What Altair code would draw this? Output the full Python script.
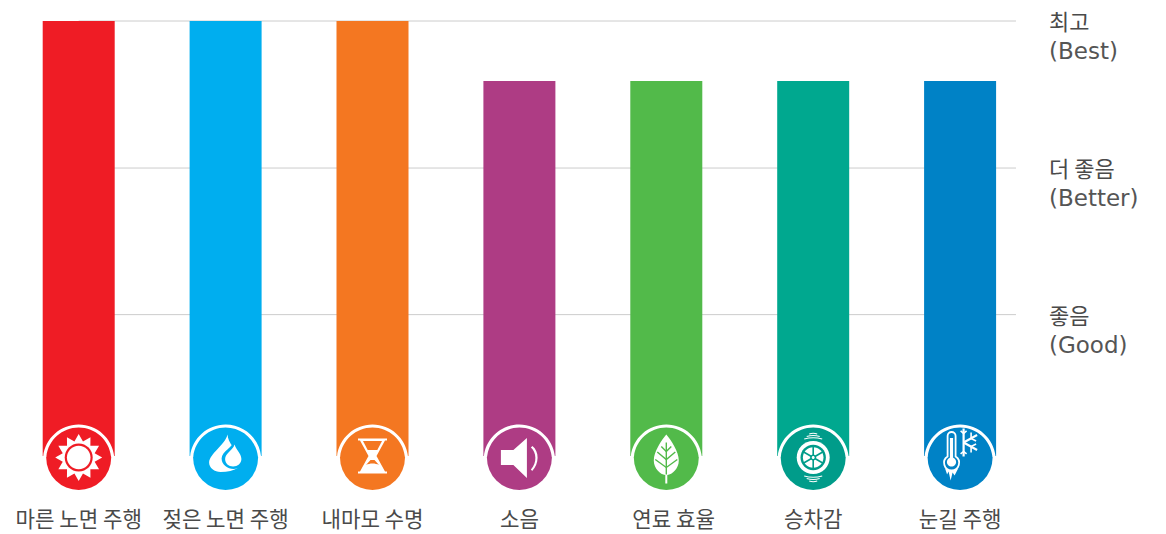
import math
import altair as alt
import pandas as pd

# ---- chart values -------------------------------------------------------
categories = ["마른 노면 주행", "젖은 노면 주행", "내마모 수명", "소음", "연료 효율", "승차감", "눈길 주행"]
label_slots = [0, 1, 2, 3, 4.05, 5, 6]
scores = [100, 100, 100, 86.2, 86.2, 86.2, 86.2]
bar_colors = ["#EF1C25", "#00AEEF", "#F47721", "#AE3C84", "#52BA4A", "#00A88F", "#0082C6"]
disc_colors = ["#EF1C25", "#00AEEF", "#F47721", "#AE3C84", "#52BA4A", "#009C8A", "#0082C6"]
level_values = [100, 66.2, 32.5]
level_korean = ["최고", "더 좋음", "좋음"]
level_english = ["(Best)", "(Better)", "(Good)"]

K_FONT = "Noto Sans CJK KR"
L_FONT = "DejaVu Sans"
TXT = "#4a4a4a"
W = "#ffffff"


# ---- icon glyphs: SVG paths in pixels, relative to the disc centre --------
def circ(cx, cy, r):
    return f"M{cx-r},{cy}A{r},{r} 0 1 1 {cx+r},{cy}A{r},{r} 0 1 1 {cx-r},{cy}Z"


def star(n, r1, r2):
    pts = []
    for k in range(2 * n):
        a = math.pi * k / n - math.pi / 2
        r = r1 if k % 2 == 0 else r2
        pts.append(f"{r*math.cos(a):.2f},{r*math.sin(a):.2f}")
    return "M" + "L".join(pts) + "Z"


ARC = "M-35.5,-1A35.7,35.7 0 0 1 35.5,-1L32.3,-1A32.5,32.5 0 0 0 -32.3,-1Z"
C = "bg"  # replaced by the disc colour of the icon

# each part: (path, fill, stroke, stroke width)
icons = [
    [
        (star(12, 23.5, 16.5), W, "none", 0),
        (circ(0, 0, 14), C, "none", 0),
        (circ(0, 0, 11.8), W, "none", 0),
    ],
    [
        ("M2,-23C2,-19 4,-15 7,-11L13,10C8,13 2,14.5 -5,14.5C-11,14.5 -16.5,10.5 -16.5,5C-16,-4 -1,-12 2,-23Z", W, "none", 0),
        ("M9,-17C8,-11 -4,-6 -4,1C-4,7 2,11.5 8,11.5C14,11.5 20,7 20,1C20,-6 10,-11 9,-17Z", C, "none", 0),
        ("M9,-13C8,-8 -0.5,-4 -0.5,1.5C-0.5,6 3,9 7.5,9C12,9 15.8,6 15.8,1.5C15.8,-4 10,-8 9,-13Z", W, "none", 0),
    ],
    [
        ("M-14.5,-19L14.5,-19L14.5,-17L12.5,-17L4,-1.5L12.5,14L14.5,14L14.5,16L-14.5,16L-14.5,14L-12.5,14L-4,-1.5L-12.5,-17L-14.5,-17Z", W, "none", 0),
        ("M-9.5,-16.5L9.5,-16.5L4.8,-7.5L-4.8,-7.5Z", C, "none", 0),
        ("M-2,2.5L2,2.5L6.5,7.5C3,5.5 -3,5.5 -6.5,7.5Z", C, "none", 0),
    ],
    [
        ("M-18.5,-7.5L-6,-7.5L7.5,-19.5L7.5,20.5L-6,7.5L-18.5,7.5Z", W, "none", 0),
        ("M11.5,-10C17,-5 18,5 11.5,12L12.8,13.5C20,6 20,-6 13,-11.5Z", W, "none", 0),
    ],
    [
        ("M0,-23C5,-17 12.5,-6 12.5,3C12.5,11 6,17 1,17.5L1,26L-1,26L-1,17.5C-6,17 -12.5,11 -12.5,3C-12.5,-6 -5,-17 0,-23Z", W, "none", 0),
        ("M0,-15L0,17", "none", C, 1.4),
        ("M-5,-11L0,-6L5,-11", "none", C, 1.4),
        ("M-9,-5.5L0,2L9,-5.5", "none", C, 1.4),
        ("M-11,2L0,10L11,2", "none", C, 1.4),
    ],
    [
        (circ(0, 0, 16.5), W, "none", 0),
        (circ(0, 0, 12.7), C, "none", 0),
        (circ(0, 0, 10.3), W, "none", 0),
        ("M0,-11L0,11", "none", C, 1.6),
        ("M-9.5,-5.5L9.5,5.5", "none", C, 1.6),
        ("M-9.5,5.5L9.5,-5.5", "none", C, 1.6),
        (circ(0, 0, 3), C, "none", 0),
        (circ(0, 0, 1.5), W, "none", 0),
        ("M-4,-23.5Q0,-25 4,-23.5", "none", W, 1.1),
        ("M-6.5,-21Q0,-23 6.5,-21", "none", W, 1.1),
        ("M-9,-18.5Q0,-21 9,-18.5", "none", W, 1.1),
        ("M-9,18.5Q0,21 9,18.5", "none", W, 1.1),
        ("M-6.5,21Q0,23 6.5,21", "none", W, 1.1),
        ("M-4,23.5Q0,25 4,23.5", "none", W, 1.1),
    ],
    [
        ("M-12.5,-1L-12.5,-21.5A4,4 0 0 1 -4.5,-21.5L-4.5,-1A7.5,7.5 0 1 1 -12.5,-1Z", "none", W, 1.8),
        ("M-10.2,-19.5L-7,-19.5L-7,5L-10.2,5Z", W, "none", 0),
        (circ(-8.6, 4.5, 4.6), W, "none", 0),
        ("M-15,11L-13,17L-11.5,14L-9.5,23L-7.5,15L-5.5,18L-2,11L-8,13.5Z", W, "none", 0),
        ("M3.5,-29L3.5,-1", "none", W, 2.2),
        ("M3.5,-15L17,-22.5", "none", W, 2.2),
        ("M3.5,-15L17,-7.5", "none", W, 2.2),
        ("M0.5,-26.5L3.5,-24L6.5,-26.5", "none", W, 1.6),
        ("M0.5,-3.5L3.5,-6L6.5,-3.5", "none", W, 1.6),
        ("M11,-25L11,-19L16,-16.5", "none", W, 1.6),
        ("M11,-5L11,-11L16,-13.5", "none", W, 1.6),
    ],
]

# ---- tables --------------------------------------------------------------
bars = pd.DataFrame({"i": range(7), "slot": label_slots, "score": scores, "color": bar_colors, "disc": disc_colors, "name": categories, "base": 0, "icon_y": -0.34, "text_y": -14.2})
levels = pd.DataFrame({"v": level_values, "x0": 0, "x1": 6.3805, "lx": 6.6052, "kr": level_korean, "en": level_english})
parts = []
for i, icon in enumerate(icons):
    for path, fill, stroke, sw in [(ARC, W, "none", 0)] + icon:
        parts.append({
            "k": len(parts), "i": i, "y": -0.34, "path": path,
            "fill": disc_colors[i] if fill == C else fill,
            "stroke": disc_colors[i] if stroke == C else stroke, "sw": sw,
        })
parts = pd.DataFrame(parts)

x_scale = alt.Scale(domain=[-0.4813, 7.3472], nice=False, zero=False, padding=0)
y_scale = alt.Scale(domain=[-17.47, 102.99], nice=False, zero=False, padding=0)
x = alt.X("i:Q", axis=None, scale=x_scale)
Y = lambda f: alt.Y(f, axis=None, scale=y_scale)

grid = alt.Chart(levels).mark_rule(color="#cccccc", strokeWidth=1).encode(
    x=alt.X("x0:Q", axis=None, scale=x_scale), x2="x1:Q", y=Y("v:Q"))
bar = alt.Chart(bars).mark_bar(size=72).encode(
    x=x, y=Y("score:Q"), y2="base:Q", color=alt.Color("color:N", scale=None))
disc = alt.Chart(bars).mark_point(filled=True, opacity=1, size=65 * 65, strokeWidth=0).encode(
    x=x, y=Y("icon_y:Q"), fill=alt.Fill("disc:N", scale=None))
glyph = alt.Chart(parts).mark_point(filled=True, opacity=1, size=4).encode(
    x=x, y=Y("y:Q"),
    shape=alt.Shape("path:N", scale=None),
    fill=alt.Fill("fill:N", scale=None),
    stroke=alt.Stroke("stroke:N", scale=None),
    strokeWidth=alt.StrokeWidth("sw:Q", scale=None),
    order=alt.Order("k:Q"),
)
xlabels = alt.Chart(bars).mark_text(font=K_FONT, fontSize=21.2, color=TXT, align="center", baseline="middle", dy=3).encode(
    x=alt.X("slot:Q", axis=None, scale=x_scale), y=Y("text_y:Q"), text="name:N")
lab_x = alt.X("lx:Q", axis=None, scale=x_scale)
kr = alt.Chart(levels).mark_text(font=K_FONT, fontSize=22, color=TXT, align="left", baseline="middle", dy=2).encode(
    x=lab_x, y=Y("v:Q"), text="kr:N")
en = alt.Chart(levels).mark_text(font=L_FONT, fontSize=23, color="#555555", align="left", baseline="middle", dy=31).encode(
    x=lab_x, y=Y("v:Q"), text="en:N")

chart = alt.layer(grid, bar, disc, glyph, xlabels, kr, en).properties(
    width=1150, height=524, padding=0, autosize="none", background="#ffffff"
).configure_view(stroke=None)

chart.save("out.html", embed_options={"renderer": "svg", "actions": False})
